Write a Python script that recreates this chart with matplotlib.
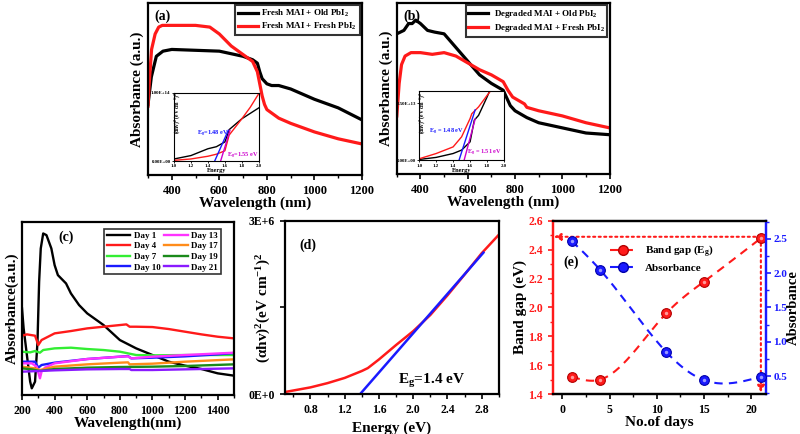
import numpy as np
import matplotlib
matplotlib.use("Agg")
import matplotlib.pyplot as plt
from matplotlib.ticker import MultipleLocator

plt.rcParams['font.family'] = ['Liberation Serif', 'DejaVu Serif']
plt.rcParams['font.weight'] = 'bold'
plt.rcParams['axes.labelweight'] = 'bold'
plt.rcParams['mathtext.fontset'] = 'custom'
plt.rcParams['mathtext.rm'] = 'Liberation Serif:bold'
plt.rcParams['mathtext.bf'] = 'Liberation Serif:bold'
plt.rcParams['mathtext.it'] = 'Liberation Serif:bold:italic'
plt.rcParams['mathtext.default'] = 'bf'
plt.rcParams['axes.linewidth'] = 1.6

# ---------------- data (a) ----------------
a_black_x = [300, 314, 335, 363, 400, 600, 700, 740, 760, 770, 780, 800, 820, 850, 900, 1000, 1100, 1200]
a_black_y = [0.41, 0.57, 0.69, 0.72, 0.73, 0.72, 0.69, 0.67, 0.65, 0.60, 0.56, 0.53, 0.52, 0.52, 0.50, 0.44, 0.39, 0.32]
a_red_x = [300, 305, 315, 330, 345, 360, 400, 500, 560, 600, 650, 700, 740, 760, 770, 780, 790, 800, 850, 900, 1000, 1100, 1200]
a_red_y = [0.40, 0.53, 0.73, 0.82, 0.86, 0.87, 0.87, 0.87, 0.86, 0.82, 0.75, 0.70, 0.66, 0.60, 0.53, 0.46, 0.41, 0.38, 0.33, 0.30, 0.25, 0.21, 0.18]
a_ins_black_x = [1.0, 1.2, 1.4, 1.5, 1.6, 1.63, 1.65, 1.8, 2.0]
a_ins_black_y = [0.03, 0.08, 0.18, 0.21, 0.28, 0.38, 0.46, 0.62, 0.78]
a_ins_red_x = [1.0, 1.2, 1.4, 1.5, 1.6, 1.65, 1.8, 1.9, 2.0]
a_ins_red_y = [0.01, 0.03, 0.07, 0.10, 0.15, 0.38, 0.62, 0.79, 0.99]
a_fit_blue_x = [1.48, 1.64]
a_fit_blue_y = [0.0, 0.45]
a_fit_purple_x = [1.55, 1.66]
a_fit_purple_y = [0.0, 0.45]

# ---------------- data (b) ----------------
b_black_x = [300, 330, 350, 365, 380, 400, 430, 460, 500, 550, 600, 650, 700, 750, 770, 780, 800, 850, 900, 1000, 1100, 1200]
b_black_y = [0.82, 0.84, 0.88, 0.88, 0.90, 0.88, 0.84, 0.83, 0.82, 0.74, 0.66, 0.58, 0.53, 0.49, 0.43, 0.40, 0.37, 0.33, 0.30, 0.27, 0.24, 0.23]
b_red_x = [300, 310, 320, 335, 360, 400, 450, 500, 550, 600, 650, 700, 750, 770, 790, 840, 850, 900, 1000, 1100, 1200]
b_red_y = [0.34, 0.53, 0.64, 0.69, 0.71, 0.71, 0.70, 0.71, 0.69, 0.65, 0.61, 0.58, 0.54, 0.49, 0.45, 0.41, 0.39, 0.37, 0.34, 0.30, 0.27]
b_ins_black_x = [1.0, 1.2, 1.4, 1.5, 1.6, 1.65, 1.7, 1.8, 1.83]
b_ins_black_y = [0.03, 0.12, 0.29, 0.44, 0.80, 1.75, 1.96, 2.76, 3.02]
b_ins_red_x = [1.0, 1.2, 1.4, 1.45, 1.5, 1.6, 1.62, 1.7, 1.8, 1.84]
b_ins_red_y = [0.06, 0.29, 0.58, 0.80, 1.02, 1.82, 2.03, 2.33, 2.83, 3.02]
b_fit_blue_x = [1.47, 1.66]
b_fit_blue_y = [0.0, 2.2]
b_fit_purple_x = [1.53, 1.66]
b_fit_purple_y = [0.0, 1.8]

# ---------------- data (c) ----------------
c_labels = ['Day 1', 'Day 4', 'Day 7', 'Day 10', 'Day 13', 'Day 17', 'Day 19', 'Day 21']
c_colors = ['black', '#ff1a1a', '#33ee33', '#1a1aff', '#ff33ff', '#ff8c1a', '#1a8a1a', '#8a1aff']
c_d1_x = [200, 210, 230, 250, 260, 280, 295, 305, 315, 330, 350, 380, 400, 420, 470, 500, 550, 600, 700, 800, 900, 1000, 1100, 1200, 1300, 1400, 1500]
c_d1_y = [280, 340, 420, 500, 520, 500, 380, 200, 100, 55, 60, 100, 150, 180, 205, 235, 270, 295, 330, 375, 400, 420, 440, 452, 462, 475, 482]
c_d4_x = [200, 230, 280, 300, 320, 400, 500, 600, 700, 800, 840, 860, 900, 1000, 1100, 1200, 1300, 1400, 1500]
c_d4_y = [362, 358, 362, 390, 375, 355, 348, 340, 335, 330, 328, 335, 335, 336, 342, 350, 358, 365, 370]
c_d7_x = [200, 250, 280, 310, 330, 400, 500, 600, 700, 800, 850, 900, 1000, 1200, 1500]
c_d7_y = [410, 412, 408, 413, 405, 400, 398, 402, 405, 410, 415, 420, 421, 420, 420]
c_d10_x = [200, 280, 300, 320, 400, 600, 800, 850, 870, 1000, 1200, 1400, 1500]
c_d10_y = [440, 440, 458, 450, 443, 432, 425, 423, 430, 428, 424, 418, 414]
c_d13_x = [200, 260, 290, 310, 320, 340, 400, 600, 800, 850, 870, 1000, 1200, 1500]
c_d13_y = [445, 445, 455, 490, 470, 458, 445, 432, 425, 424, 430, 425, 420, 413]
c_d17_x = [200, 280, 310, 400, 600, 800, 850, 860, 1000, 1200, 1500]
c_d17_y = [455, 460, 465, 455, 448, 443, 442, 448, 446, 440, 433]
c_d19_x = [200, 260, 310, 400, 600, 800, 1000, 1200, 1500]
c_d19_y = [460, 463, 468, 462, 458, 456, 455, 453, 448]
c_d21_x = [200, 300, 400, 600, 800, 860, 870, 1000, 1500]
c_d21_y = [470, 468, 466, 463, 462, 462, 465, 465, 460]

# ---------------- data (d) ----------------
d_energy = [0.5, 0.8, 1.0, 1.2, 1.4, 1.47, 1.6, 1.8, 2.0, 2.2, 2.4, 2.6, 2.8, 3.0]
d_ahv2 = [0.035, 0.116, 0.19, 0.28, 0.40, 0.45, 0.60, 0.85, 1.09, 1.37, 1.71, 2.07, 2.44, 2.76]
d_fit_x = [1.38, 2.82]
d_fit_y = [0.0, 2.45]

# ---------------- data (e) ----------------
e_days = [1, 4, 11, 15, 21]
e_bandgap = [1.52, 1.50, 1.96, 2.18, 2.48]
e_absorb = [2.47, 2.05, 0.85, 0.44, 0.49]


def natural_spline(x, y, n=200):
    x = np.asarray(x, float); y = np.asarray(y, float)
    m = len(x); h = np.diff(x)
    A = np.zeros((m, m)); r = np.zeros(m)
    A[0, 0] = 1; A[-1, -1] = 1
    for i in range(1, m - 1):
        A[i, i - 1] = h[i - 1]; A[i, i] = 2 * (h[i - 1] + h[i]); A[i, i + 1] = h[i]
        r[i] = 6 * ((y[i + 1] - y[i]) / h[i] - (y[i] - y[i - 1]) / h[i - 1])
    M = np.linalg.solve(A, r)
    xs = np.linspace(x[0], x[-1], n)
    idx = np.clip(np.searchsorted(x, xs) - 1, 0, m - 2)
    x0 = x[idx]; x1 = x[idx + 1]; hh = x1 - x0
    ys = (M[idx] * (x1 - xs) ** 3 / (6 * hh) + M[idx + 1] * (xs - x0) ** 3 / (6 * hh)
          + (y[idx] / hh - M[idx] * hh / 6) * (x1 - xs) + (y[idx + 1] / hh - M[idx + 1] * hh / 6) * (xs - x0))
    return xs, ys


fig = plt.figure(figsize=(8, 4.34), dpi=100)

def style(ax, fs=8):
    ax.tick_params(direction='out', width=1.2, length=3.5, labelsize=fs, which='major')
    ax.tick_params(direction='out', width=1.0, length=2, which='minor')
    for lab in ax.get_xticklabels() + ax.get_yticklabels():
        lab.set_fontweight('bold')

def make_legend(ax, **kw):
    leg = ax.legend(frameon=True, fancybox=False, edgecolor='black', **kw)
    leg.get_frame().set_linewidth(1.5)
    for t in leg.get_texts():
        t.set_fontweight('bold')
    return leg

# ----- (a) -----
axa = fig.add_axes([0.185, 0.597, 0.2675, 0.396])
axa.plot(a_black_x, a_black_y, color='black', lw=2.3, label='Fresh MAI + Old PbI$_2$')
axa.plot(a_red_x, a_red_y, color='#ff1a1a', lw=2.3, label='Fresh MAI + Fresh PbI$_2$')
axa.set_xlim(300, 1200); axa.set_ylim(0, 1)
axa.set_xticks([400, 600, 800, 1000, 1200])
axa.xaxis.set_minor_locator(MultipleLocator(100))
axa.set_yticks([])
axa.set_xlabel('Wavelength (nm)', fontsize=11, labelpad=0)
axa.set_ylabel('Absorbance (a.u.)', fontsize=11, labelpad=3)
style(axa, 9)
make_legend(axa, loc='upper right', fontsize=6.5, handlelength=2.2, borderpad=0.3,
            labelspacing=0.2, handletextpad=0.4, borderaxespad=0.25)
axa.text(0.03, 0.96, '(a)', transform=axa.transAxes, fontsize=10, fontweight='bold', va='top')

ia = fig.add_axes([0.2175, 0.629, 0.106, 0.157])
ia.plot(a_ins_black_x, a_ins_black_y, color='black', lw=1)
ia.plot(a_ins_red_x, a_ins_red_y, color='#ff1a1a', lw=1)
ia.plot(a_fit_blue_x, a_fit_blue_y, color='#1a1aff', lw=1)
ia.plot(a_fit_purple_x, a_fit_purple_y, color='#cc00cc', lw=1)
ia.set_xlim(1.0, 2.0); ia.set_ylim(0, 1.0)
ia.set_xticks([1.0, 1.2, 1.4, 1.6, 1.8, 2.0])
ia.set_yticks([0, 1.0]); ia.set_yticklabels(['0.00E+00', '1.00E+14'])
ia.tick_params(labelsize=3.5, length=1.5, width=0.6, pad=1)
for s in ia.spines.values(): s.set_linewidth(0.8)
ia.set_xlabel('Energy', fontsize=4.5, labelpad=0)
ia.set_ylabel('(αhν)$^2$ (eV cm$^{-1}$)$^2$', fontsize=4)
ia.yaxis.set_label_coords(0.09, 0.7)
ia.text(1.27, 0.38, 'E$_g$=1.48 eV', color='#1a1aff', fontsize=4.5, fontweight='bold')
ia.text(1.62, 0.06, 'E$_g$=1.55 eV', color='#cc00cc', fontsize=4.5, fontweight='bold')

# ----- (b) -----
axb = fig.add_axes([0.496, 0.599, 0.266, 0.394])
axb.plot(b_black_x, b_black_y, color='black', lw=2.3, label='Degraded MAI + Old PbI$_2$')
axb.plot(b_red_x, b_red_y, color='#ff1a1a', lw=2.3, label='Degraded MAI + Fresh PbI$_2$')
axb.set_xlim(300, 1200); axb.set_ylim(0, 1)
axb.set_xticks([400, 600, 800, 1000, 1200])
axb.xaxis.set_minor_locator(MultipleLocator(100))
axb.set_yticks([])
axb.set_xlabel('Wavelength (nm)', fontsize=11, labelpad=0)
axb.set_ylabel('Absorbance (a.u.)', fontsize=11, labelpad=3)
style(axb, 9)
make_legend(axb, loc='upper right', fontsize=6.5, handlelength=2.2, borderpad=0.3,
            labelspacing=0.2, handletextpad=0.6, borderaxespad=0.25)
axb.text(0.03, 0.96, '(b)', transform=axb.transAxes, fontsize=10, fontweight='bold', va='top')

ib = fig.add_axes([0.524, 0.631, 0.106, 0.159])
ib.plot(b_ins_black_x, b_ins_black_y, color='black', lw=1)
ib.plot(b_ins_red_x, b_ins_red_y, color='#ff1a1a', lw=1)
ib.plot(b_fit_blue_x, b_fit_blue_y, color='#1a1aff', lw=1)
ib.plot(b_fit_purple_x, b_fit_purple_y, color='#cc00cc', lw=1)
ib.set_xlim(1.0, 2.0); ib.set_ylim(0, 3.02)
ib.set_xticks([1.0, 1.2, 1.4, 1.6, 1.8, 2.0])
ib.set_yticks([0, 2.5]); ib.set_yticklabels(['0.00E+00', '2.50E+13'])
ib.tick_params(labelsize=3.5, length=1.5, width=0.6, pad=1)
for s in ib.spines.values(): s.set_linewidth(0.8)
ib.set_xlabel('Energy', fontsize=4.5, labelpad=0)
ib.set_ylabel('(αhν)$^2$ (eV cm$^{-1}$)$^2$', fontsize=4)
ib.yaxis.set_label_coords(0.09, 0.68)
ib.text(1.12, 1.2, 'E$_g$ = 1.48 eV', color='#1a1aff', fontsize=4.5, fontweight='bold')
ib.text(1.56, 0.25, 'E$_g$ = 1.51 eV', color='#cc00cc', fontsize=4.5, fontweight='bold')

# ----- (c) -----
axc = fig.add_axes([0.0275, 0.0899, 0.265, 0.399])
series_c = [(c_d1_x, c_d1_y), (c_d4_x, c_d4_y), (c_d7_x, c_d7_y), (c_d10_x, c_d10_y),
            (c_d13_x, c_d13_y), (c_d17_x, c_d17_y), (c_d19_x, c_d19_y), (c_d21_x, c_d21_y)]
for (xx, yy), lab, col in zip(series_c, c_labels, c_colors):
    axc.plot(xx, (540 - np.asarray(yy)) / 520.0, color=col, lw=1.7, label=lab)
axc.set_xlim(200, 1500); axc.set_ylim(0, 1)
axc.set_xticks([200, 400, 600, 800, 1000, 1200, 1400])
axc.xaxis.set_minor_locator(MultipleLocator(100))
axc.set_yticks([])
axc.set_xlabel('Wavelength(nm)', fontsize=11, labelpad=0)
axc.set_ylabel('Absorbance(a.u.)', fontsize=11, labelpad=2)
style(axc, 8.5)
leg = make_legend(axc, loc='upper right', ncol=2, fontsize=6.5, handlelength=2.6, borderpad=0.3,
                  labelspacing=0.25, columnspacing=0.4, handletextpad=0.4, borderaxespad=0.4,
                  bbox_to_anchor=(0.955, 0.98))
leg.get_frame().set_linewidth(1.2)
axc.text(0.17, 0.95, '(c)', transform=axc.transAxes, fontsize=10, fontweight='bold', va='top')

# ----- (d) -----
axd = fig.add_axes([0.356, 0.092, 0.2675, 0.399])
axd.plot(d_energy, d_ahv2, color='#ff1a1a', lw=1.8)
axd.plot(d_fit_x, d_fit_y, color='#1a1aff', lw=1.8)
axd.set_xlim(0.5, 3.0); axd.set_ylim(0, 3.0)
axd.set_xticks([0.8, 1.2, 1.6, 2.0, 2.4, 2.8])
axd.xaxis.set_minor_locator(MultipleLocator(0.2))
axd.set_yticks([0, 1.5, 3.0]); axd.set_yticklabels(['0E+0', '', '3E+6'])
axd.set_xlabel('Energy (eV)', fontsize=11, labelpad=4)
axd.set_ylabel('(αhv)$^2$(eV cm$^{-1}$)$^2$', fontsize=11)
axd.yaxis.set_label_coords(-0.055, 0.5)
style(axd, 8.5)
axd.text(0.07, 0.9, '(d)', transform=axd.transAxes, fontsize=10, fontweight='bold', va='top')
axd.text(1.82, 0.18, 'E$_g$=1.4 eV', fontsize=11, fontweight='bold')

# ----- (e) -----
axe = fig.add_axes([0.691, 0.092, 0.266, 0.399])
axe2 = axe.twinx()
sx, sy = natural_spline(e_days, e_bandgap)
axe.plot(sx, sy, color='#ff1a1a', lw=1.5, ls=(0, (4, 3)))
axe.plot(e_days, e_bandgap, 'o', color='#ff1a1a', mec='#b30000', ms=7, mew=0.8, zorder=5)
axe.plot(e_days, e_bandgap, 'o', color='#ff9999', mec='none', ms=2.5, zorder=6)
bx, by = natural_spline(e_days, e_absorb)
axe2.plot(bx, by, color='#1a1aff', lw=1.5, ls=(0, (4, 3)))
axe2.plot(e_days, e_absorb, 'o', color='#1a1aff', mec='#0000aa', ms=7, mew=0.8, zorder=5)
axe2.plot(e_days, e_absorb, 'o', color='#9999ff', mec='none', ms=2.5, zorder=6)
axe.plot([], [], color='#ff1a1a', lw=1.5, ls=(0, (4, 3)), marker='o', ms=7, mec='#b30000',
         label='Band gap (E$_g$)')
axe.plot([], [], color='#1a1aff', lw=1.5, ls=(0, (4, 3)), marker='o', ms=7, mec='#0000aa',
         label='Absorbance')
axe.set_xlim(-1, 21.5); axe.set_ylim(1.4, 2.6)
axe2.set_ylim(0.237, 2.763)
axe.set_xticks([0, 5, 10, 15, 20])
axe.set_yticks([1.4, 1.6, 1.8, 2.0, 2.2, 2.4, 2.6])
axe2.set_yticks([0.5, 1.0, 1.5, 2.0, 2.5])
axe.xaxis.set_minor_locator(MultipleLocator(2.5))
axe.yaxis.set_minor_locator(MultipleLocator(0.1))
axe2.yaxis.set_minor_locator(MultipleLocator(0.25))
axe.set_xlabel('No.of days', fontsize=11, labelpad=0)
axe.set_ylabel('Band gap (eV)', fontsize=11, labelpad=1)
style(axe, 8.5); style(axe2, 8)
axe2.tick_params(axis='y', which='major', pad=2)
axe2.set_ylabel('Absorbance', fontsize=10.5, labelpad=0)
axe.tick_params(axis='y', which='both', colors='#ff1a1a')
axe2.tick_params(axis='y', which='both', colors='#1a1aff')
axe.spines['left'].set_color('#ff1a1a'); axe2.spines['left'].set_color('#ff1a1a')
axe2.spines['right'].set_color('#1a1aff'); axe.spines['right'].set_color('#1a1aff')
for lab in axe.get_yticklabels(): lab.set_color('#ff1a1a')
for lab in axe2.get_yticklabels(): lab.set_color('#1a1aff')
axe.annotate('', xy=(-0.9, 2.49), xytext=(21, 2.49),
             arrowprops=dict(arrowstyle='-|>', color='#ff1a1a', lw=1.5, ls=':', mutation_scale=10,
                             shrinkA=0, shrinkB=0))
axe.annotate('', xy=(21, 1.41), xytext=(21, 2.48),
             arrowprops=dict(arrowstyle='-|>', color='#ff1a1a', lw=1.5, ls=':', mutation_scale=10,
                             shrinkA=0, shrinkB=0))
leg = axe.legend(loc='upper left', bbox_to_anchor=(0.22, 0.93), fontsize=8, frameon=False,
                 handlelength=2.4, labelspacing=0.4)
for t in leg.get_texts():
    t.set_fontweight('bold')
axe.text(0.05, 0.80, '(e)', transform=axe.transAxes, fontsize=10, fontweight='bold', va='top')

fig.savefig('out.png', dpi=100)
